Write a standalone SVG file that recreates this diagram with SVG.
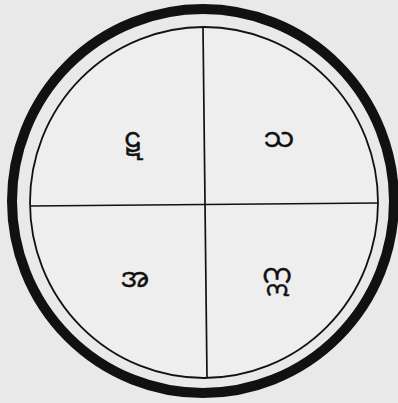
<svg xmlns="http://www.w3.org/2000/svg" width="398" height="403" viewBox="0 0 398 403">
<style>
.ring{fill:none;stroke:#111;}
.div{stroke:#111;stroke-width:1.7;fill:none;}
.lbl{font-family:"Noto Sans Myanmar","Padauk","Myanmar Text","Noto Sans",sans-serif;font-size:27px;fill:#111;stroke:#111;stroke-width:0.4;text-anchor:middle;}
</style>
<rect x="0" y="0" width="398" height="403" fill="#e9e9e9"/>
<g id="outer-ring"><ellipse class="ring" cx="203" cy="201" rx="191" ry="192" stroke-width="10"/></g>
<g id="inner-circle"><ellipse cx="204" cy="202.5" rx="174" ry="175.5" fill="#eeeeee" stroke="#111" stroke-width="1.8"/></g>
<g id="connectors">
<line class="div" x1="203" y1="27" x2="207" y2="378"/>
<line class="div" x1="30" y1="206" x2="378" y2="203"/>
</g>
<g id="q1"><text class="lbl" x="133" y="147">ဋ</text></g>
<g id="q2"><text class="lbl" x="279" y="147">သ</text></g>
<g id="q3"><text class="lbl" x="135" y="287">အ</text></g>
<g id="q4"><text class="lbl" x="277" y="283">ဣ</text></g>
</svg>
